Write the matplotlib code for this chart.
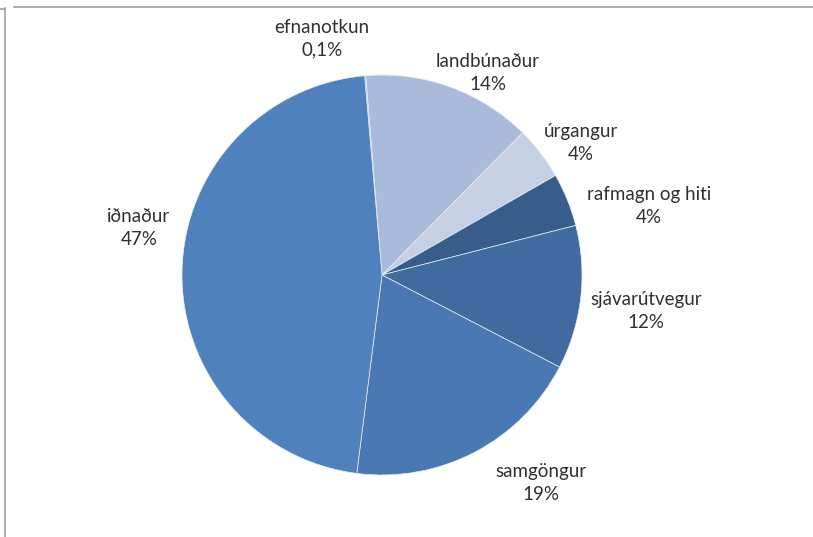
import matplotlib
matplotlib.use("Agg")
import matplotlib.pyplot as plt
from matplotlib.lines import Line2D

# ---- data (clockwise from the top) ----
categories = ["efnanotkun", "landbúnaður", "úrgangur", "rafmagn og hiti",
              "sjávarútvegur", "samgöngur", "iðnaður"]
shares = [0.1, 13.7, 4.3, 4.3, 11.6, 19.4, 46.6]
pct_labels = ["0,1%", "14%", "4%", "4%", "12%", "19%", "47%"]

# ---- style / layout ----
colors = ["#7f9ccd", "#a9badb", "#c6d0e5", "#385d8b", "#416a9e", "#4a78b3", "#4f81bd"]
label_pos = [(-0.30, 1.18), (0.53, 1.01), (0.995, 0.66), (1.335, 0.345),
             (1.32, -0.18), (0.795, -1.04), (-1.215, 0.235)]

plt.rcParams['font.family'] = ['Lato', 'DejaVu Sans']

W, H = 813, 537
fig = plt.figure(figsize=(W / 100, H / 100), dpi=100)
fig.patch.set_facecolor("white")

cx, cy, R = 382, 275, 200
ax = fig.add_axes([(cx - R) / W, (H - cy - R) / H, 2 * R / W, 2 * R / H])
ax.pie(shares, colors=colors, startangle=95, counterclock=False,
       wedgeprops=dict(edgecolor="#e8eef7", linewidth=0.5))
ax.set_xlim(-1, 1)
ax.set_ylim(-1, 1)
ax.set_aspect("equal")

for cat, pct, (x, y) in zip(categories, pct_labels, label_pos):
    ax.text(x, y, f"{cat}\n{pct}", ha="center", va="center", fontsize=13.5,
            color="#303030", linespacing=1.4, clip_on=False)

# frame lines of the original screenshot
fcol = "#a0a0a0"
fig.add_artist(Line2D([14 / W, 1], [1 - 7 / H, 1 - 7 / H], color=fcol, lw=1.2,
                      transform=fig.transFigure))
fig.add_artist(Line2D([4.5 / W, 4.5 / W], [1 - 8 / H, 0], color=fcol, lw=1.2,
                      transform=fig.transFigure))
fig.add_artist(Line2D([0, 4.5 / W], [1 - 8.5 / H, 1 - 8.5 / H], color=fcol, lw=1.2,
                      transform=fig.transFigure))

fig.savefig("out.png", dpi=100, facecolor="white")
